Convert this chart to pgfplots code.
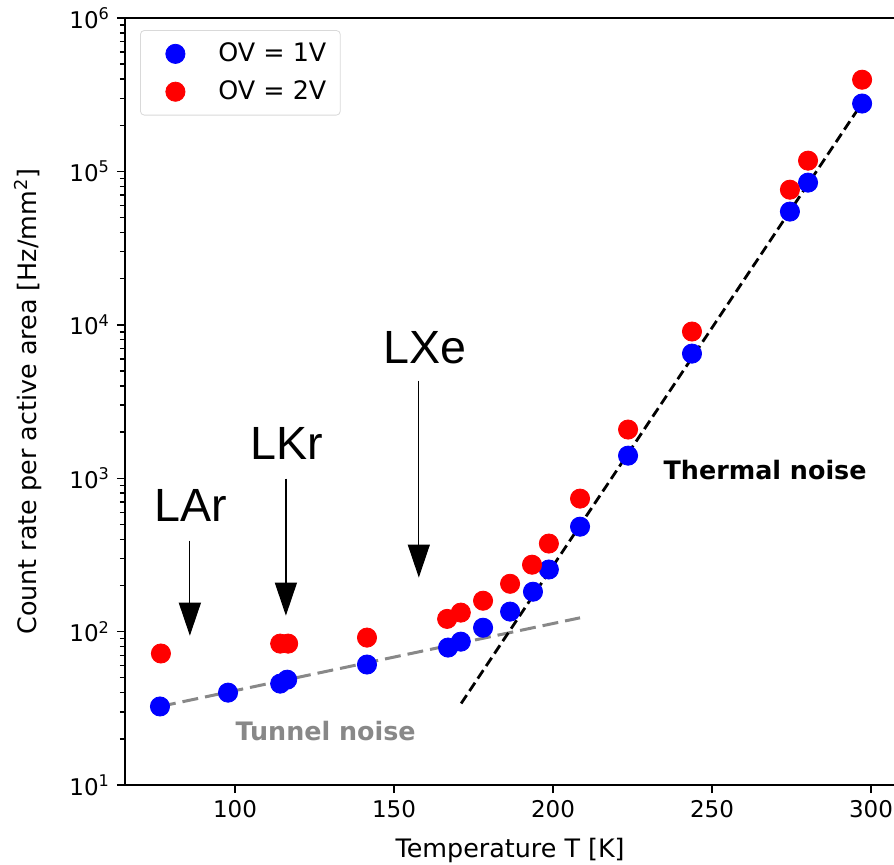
\documentclass[border=0pt]{standalone}
\usepackage{pgfplots}
\pgfplotsset{compat=1.18}
\usepackage{fontspec}
\setmainfont{DejaVu Sans}
\newfontfamily\arialfont{Liberation Sans}
\usetikzlibrary{arrows.meta}
\definecolor{tgray}{RGB}{136,136,136}
\begin{document}
\begin{tikzpicture}
\begin{axis}[
  name=ax,
  scale only axis,
  width=388.9pt, height=383.5pt,
  xmin=65.4, xmax=310,
  ymode=log, ymin=10, ymax=1e6,
  xtick={100,150,200,250,300},
  xticklabels={100,150,200,250,300},
  yticklabel={\pgfmathparse{int(round(\tick/ln(10)))}10\textsuperscript{\pgfmathresult}},
  tick label style={font=\fontsize{11.5}{13}\selectfont},
  xtick pos=bottom, ytick pos=left,
  tick align=outside,
  major tick length=4pt, minor tick length=2.5pt,
  every tick/.style={black, line width=0.7pt},
  axis line style={line width=0.8pt},
  axis x line*=bottom,
  axis y line*=left,
  separate axis lines,
  every outer x axis line/.append style={-},
  every outer y axis line/.append style={-},
  xlabel={Temperature T [K]},
  ylabel={Count rate per active area [Hz/mm\textsuperscript{2}]},
  every axis x label/.style={at={(axis cs:186.5,10)}, yshift=-32.5pt, anchor=center, font=\fontsize{12.7}{15}\selectfont},
  every axis y label/.style={at={(rel axis cs:0,0.5)}, xshift=-48.5pt, rotate=90, anchor=center, font=\fontsize{12.7}{15}\selectfont},
  legend style={at={(0.0193,0.9843)}, anchor=north west,
    draw=black!15, rounded corners=2pt, font=\fontsize{12.7}{15}\selectfont,
    inner xsep=5pt, inner ysep=4.25pt, row sep=4pt},
  legend image code/.code={\path[draw=none,fill=none] (-12.5pt,-5.8pt) rectangle (19.5pt,5.8pt); \draw[#1] plot coordinates {(0cm,0cm)};},
  legend cell align=left,
]
\addplot[tgray, line width=1.5pt, dash pattern=on 8pt off 3.5pt, forget plot] coordinates {(76.4,32.5) (208.5,123)};
\addplot[black, line width=1.4pt, dash pattern=on 5pt off 2.5pt, forget plot] coordinates {(171.1,34) (295.6,249000)};
\addplot[only marks, mark=*, mark size=4.8pt, color=blue, mark options={fill=blue, draw=blue}] coordinates {
(76.4,32.5) (97.8,40) (114.2,45.8) (116.4,48.6) (141.5,61) (167,78.7) (171,86) (178,106)
(186.5,135) (193.7,182) (198.7,254) (208.5,483) (223.6,1403) (243.7,6490) (274.5,54700)
(280.2,84500) (297.2,277000)};
\addlegendentry{OV = 1V}
\addplot[only marks, mark=*, mark size=4.8pt, color=red, mark options={fill=red, draw=red}] coordinates {
(76.7,72) (114.2,83.5) (116.7,83.5) (141.5,91.4) (166.7,121) (171,133) (178,159)
(186.5,205) (193.4,273) (198.7,375) (208.5,736) (223.6,2076) (243.7,9040) (274.5,76000)
(280.2,117500) (297.2,396000)};
\addlegendentry{OV = 2V}
\draw[line width=0.6pt, -{Triangle[width=11pt,length=16.5pt]}] (axis cs:85.8,392) -- (axis cs:85.8,94);
\draw[line width=0.6pt, -{Triangle[width=11pt,length=16.5pt]}] (axis cs:116,993) -- (axis cs:116,127);
\draw[line width=0.6pt, -{Triangle[width=11pt,length=16.5pt]}] (axis cs:157.8,4325) -- (axis cs:157.8,225);
\node[font=\arialfont\fontsize{23.3}{28}\selectfont, inner sep=0pt] at (axis cs:86.2,662) {LAr};
\node[font=\arialfont\fontsize{23.3}{28}\selectfont, inner sep=0pt] at (axis cs:116.2,1683) {LKr};
\node[font=\arialfont\fontsize{23.3}{28}\selectfont, inner sep=0pt] at (axis cs:159.6,7100) {LXe};
\node[font=\bfseries\fontsize{12.7}{15}\selectfont, inner sep=0pt] at (axis cs:266.7,1137) {Thermal noise};
\node[font=\bfseries\fontsize{12.7}{15}\selectfont, text=tgray, inner sep=0pt] at (axis cs:128.5,22.6) {Tunnel noise};
\end{axis}
\draw[line width=0.8pt] (ax.north west) -- ([xshift=400pt]ax.north west);
\pgfresetboundingbox
\useasboundingbox ([xshift=-62.5pt,yshift=-39.5pt]ax.south west) rectangle ([xshift=384.5pt,yshift=9pt]ax.north west);
\end{tikzpicture}
\end{document}
